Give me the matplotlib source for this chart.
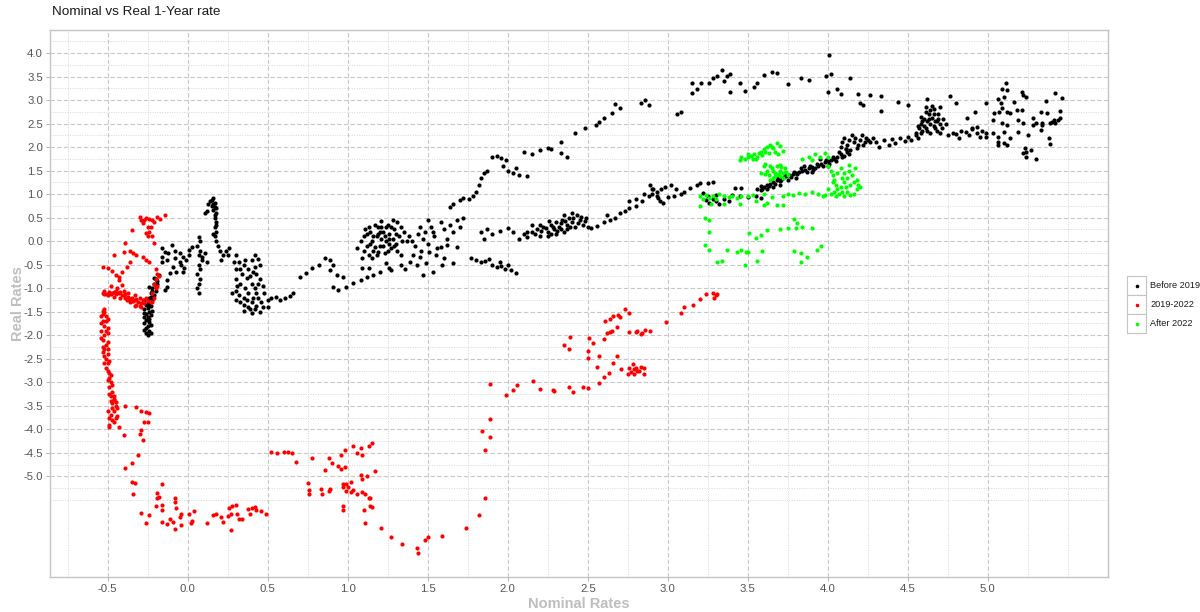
import numpy as np
import matplotlib
matplotlib.use('Agg')
import matplotlib.pyplot as plt
from matplotlib.lines import Line2D
from matplotlib.patches import Rectangle

plt.rcParams['font.family'] = ['Liberation Sans', 'DejaVu Sans']

# (nominal, real) 1-year rates, read per period
before_2019 = [
    # short end, 2009-2013 style lows
    (-0.25, -2.0), (-0.26, -1.95), (-0.24, -1.9), (-0.26, -1.85), (-0.25, -1.8),
    (-0.27, -1.75), (-0.24, -1.72), (-0.26, -1.68), (-0.25, -1.62), (-0.23, -1.58),
    (-0.26, -1.55), (-0.24, -1.5), (-0.27, -1.45), (-0.25, -1.42), (-0.23, -1.38),
    (-0.26, -1.35), (-0.25, -1.3), (-0.22, -1.25), (-0.24, -1.2), (-0.21, -1.15),
    (-0.23, -1.1), (-0.2, -1.05), (-0.22, -1.0), (-0.2, -0.95), (-0.21, -0.9),
    (-0.19, -0.85), (-0.2, -0.8), (-0.18, -0.72),
    (-0.23, -1.95), (-0.27, -1.88), (-0.23, -1.78), (-0.27, -1.62), (-0.24, -1.65),
    (-0.22, -1.48), (-0.27, -1.52), (-0.24, -1.35), (-0.27, -1.25), (-0.23, -1.18),
    (-0.22, -1.05), (-0.24, -0.97), (-0.19, -0.9), (-0.21, -0.78),
    (-0.16, -0.15), (-0.14, -0.22), (-0.16, -0.34), (-0.13, -0.4), (-0.16, -0.45),
    (-0.12, -0.26), (-0.1, -0.09), (-0.08, -0.2), (-0.08, -0.36), (-0.09, -0.55),
    (-0.07, -0.66), (-0.11, -0.68), (-0.13, -0.83), (-0.13, -0.98), (-0.14, -1.04),
    (-0.05, -0.26), (-0.03, -0.34), (-0.05, -0.45), (-0.04, -0.51), (-0.01, -0.4),
    (0.01, -0.3), (-0.02, -0.57), (-0.03, -0.66), (0.01, -0.19), (0.03, -0.13),
    (0.07, 0.08), (0.08, 0.0), (0.06, -0.1), (0.08, -0.2), (0.07, -0.3),
    (0.09, -0.4), (0.07, -0.5), (0.08, -0.6), (0.06, -0.7), (0.08, -0.8),
    (0.07, -0.9), (0.06, -1.0), (0.07, -1.1), (0.09, -0.34), (0.11, -0.26),
    (0.12, -0.45),
    (0.16, 0.91), (0.14, 0.86), (0.17, 0.82), (0.13, 0.78), (0.15, 0.74),
    (0.18, 0.7), (0.16, 0.66), (0.18, 0.6), (0.17, 0.5), (0.18, 0.4),
    (0.17, 0.3), (0.18, 0.2), (0.17, 0.1), (0.18, 0.0), (0.12, 0.65), (0.11, 0.6),
    (0.15, 0.88), (0.16, 0.8), (0.17, 0.72), (0.17, 0.55), (0.18, 0.35),
    (0.16, 0.15),
    (0.19, -0.1), (0.2, -0.2), (0.22, -0.3), (0.21, -0.4), (0.24, -0.2),
    (0.25, -0.3), (0.26, -0.15),
    (0.3, -0.3), (0.32, -0.45), (0.35, -0.5), (0.3, -0.6), (0.34, -0.7),
    (0.38, -0.6), (0.4, -0.4), (0.42, -0.55), (0.45, -0.5), (0.43, -0.7),
    (0.3, -0.8), (0.33, -0.9), (0.36, -1.0), (0.3, -1.05), (0.28, -1.1),
    (0.32, -1.15), (0.35, -1.2), (0.38, -1.1), (0.4, -0.9), (0.42, -1.0),
    (0.44, -1.2), (0.4, -1.3), (0.35, -1.35), (0.3, -1.25), (0.42, -1.45),
    (0.45, -1.5), (0.4, -1.52), (0.38, -1.4), (0.46, -1.3), (0.5, -1.25),
    (0.52, -1.2), (0.48, -1.1), (0.55, -1.18), (0.31, -0.95), (0.45, -0.8),
    (0.47, -0.95), (0.37, -0.78), (0.43, -1.38),
    (0.29, -0.45), (0.33, -0.6), (0.36, -0.4), (0.39, -0.75), (0.41, -0.65),
    (0.44, -0.9), (0.33, -1.3), (0.37, -1.25), (0.41, -1.2), (0.43, -1.1),
    (0.47, -1.4), (0.5, -1.4), (0.39, -1.45), (0.35, -1.48), (0.42, -0.3),
    (0.44, -0.38),
    # 2013-2016 climb
    (0.58, -1.25), (0.61, -1.2), (0.64, -1.17), (0.66, -1.1), (0.7, -0.77),
    (0.74, -0.68), (0.78, -0.57), (0.82, -0.5), (0.86, -0.36), (0.89, -0.4),
    (0.91, -0.51), (0.89, -0.62), (0.93, -0.72), (0.97, -0.77), (0.91, -0.98),
    (0.94, -1.04), (0.99, -0.98), (1.03, -0.89), (1.08, -0.83), (1.12, -0.77),
    (1.16, -0.72), (1.2, -0.66), (1.26, -0.57), (1.33, -0.51), (1.39, -0.45),
    (1.45, -0.34), (1.51, -0.23), (1.58, -0.13), (1.62, -0.09), (1.68, -0.13),
    (1.09, -0.57), (1.13, -0.57), (1.24, -0.47), (1.27, -0.62), (1.36, -0.6),
    (1.43, -0.51), (1.49, -0.47), (1.47, -0.72), (1.53, -0.66), (1.59, -0.51),
    (1.66, -0.47),
    (1.08, 0.0), (1.1, 0.1), (1.12, -0.1), (1.14, 0.2), (1.15, 0.0),
    (1.16, -0.2), (1.18, 0.1), (1.19, 0.3), (1.2, -0.1), (1.21, 0.05),
    (1.22, 0.2), (1.23, -0.25), (1.24, 0.0), (1.25, 0.35), (1.26, 0.15),
    (1.27, -0.15), (1.28, 0.05), (1.29, 0.25), (1.3, -0.05), (1.31, 0.4),
    (1.32, 0.1), (1.33, -0.3), (1.13, -0.3), (1.17, 0.35), (1.11, 0.25),
    (1.35, 0.2), (1.37, 0.0), (1.06, -0.15), (1.09, -0.35), (1.28, 0.45),
    (1.14, -0.05), (1.19, 0.15), (1.23, 0.1), (1.26, -0.05), (1.21, 0.3),
    (1.1, -0.2), (1.13, 0.3), (1.16, 0.1), (1.18, -0.3), (1.2, 0.2),
    (1.22, -0.1), (1.24, 0.3), (1.25, -0.2), (1.27, 0.3), (1.29, -0.1),
    (1.3, 0.15), (1.31, -0.2), (1.33, 0.3), (1.34, 0.0), (1.12, 0.15),
    (1.17, -0.12), (1.21, 0.42), (1.26, 0.05), (1.15, -0.35), (1.19, -0.22),
    (1.38, 0.1), (1.4, 0.0), (1.42, -0.1), (1.44, 0.15), (1.46, -0.2),
    (1.48, 0.2), (1.5, -0.05), (1.52, 0.3), (1.54, 0.1), (1.56, -0.15),
    (1.58, 0.4), (1.6, 0.25), (1.62, 0.05), (1.64, 0.35), (1.66, 0.2),
    (1.68, 0.45), (1.45, 0.3), (1.5, 0.45), (1.55, -0.3), (1.6, -0.35),
    (1.41, -0.3), (1.47, 0.05), (1.53, 0.2), (1.7, 0.3), (1.72, 0.5),
    (1.77, -0.35), (1.8, -0.4), (1.83, -0.45), (1.86, -0.42), (1.9, -0.5),
    (1.93, -0.55), (1.96, -0.52), (1.98, -0.6), (2.02, -0.62), (2.05, -0.68),
    (1.88, -0.38), (1.95, -0.45), (2.0, -0.5),
    (1.83, 0.2), (1.87, 0.25), (1.9, 0.15), (1.95, 0.22), (2.0, 0.27),
    (2.03, 0.2), (1.85, 0.05),
    (2.07, 0.05), (2.1, 0.15), (2.12, 0.08), (2.15, 0.2), (2.18, 0.25),
    (2.2, 0.12), (2.22, 0.3), (2.25, 0.2), (2.27, 0.35), (2.29, 0.25),
    (2.3, 0.4), (2.32, 0.3), (2.34, 0.45), (2.35, 0.2), (2.37, 0.35),
    (2.38, 0.5), (2.4, 0.4), (2.42, 0.3), (2.43, 0.55), (2.45, 0.45),
    (2.47, 0.35), (2.49, 0.5), (2.5, 0.3), (2.25, 0.1), (2.3, 0.15),
    (2.35, 0.55), (2.2, 0.35), (2.4, 0.6), (2.15, 0.35), (2.33, 0.25),
    (2.12, 0.2), (2.17, 0.15), (2.21, 0.22), (2.24, 0.28), (2.26, 0.42),
    (2.28, 0.3), (2.31, 0.22), (2.33, 0.38), (2.36, 0.42), (2.39, 0.3),
    (2.41, 0.5), (2.44, 0.38), (2.46, 0.52), (2.48, 0.42), (2.27, 0.15),
    (2.37, 0.25),
    (2.52, 0.28), (2.56, 0.32), (2.6, 0.4), (2.64, 0.45), (2.67, 0.5),
    (2.7, 0.6), (2.73, 0.65), (2.76, 0.7), (2.8, 0.75), (2.84, 0.85),
    (2.88, 0.95), (2.9, 1.0), (2.93, 1.05), (2.96, 1.1), (2.8, 0.9),
    (2.85, 1.0), (2.9, 1.12), (2.94, 0.92), (2.98, 1.15), (3.02, 1.2),
    (3.05, 1.1), (3.1, 1.05), (2.76, 0.85), (2.62, 0.55),
    # upper branch
    (1.64, 0.72), (1.66, 0.8), (1.7, 0.88), (1.72, 0.92), (1.76, 0.9),
    (1.78, 0.96), (1.8, 1.05), (1.82, 1.2), (1.83, 1.35), (1.85, 1.45),
    (1.87, 1.5), (1.9, 1.8), (1.93, 1.82), (1.96, 1.76), (1.99, 1.72),
    (1.97, 1.6), (2.0, 1.5), (2.03, 1.45), (2.07, 1.4), (2.12, 1.38),
    (2.05, 1.55), (2.1, 1.9), (2.15, 1.85), (2.2, 1.93), (2.27, 1.95),
    (2.33, 1.87), (2.37, 1.8), (2.25, 1.98), (2.33, 2.11), (2.42, 2.3),
    (2.48, 2.4), (2.55, 2.47), (2.57, 2.53), (2.6, 2.62), (2.65, 2.72),
    (2.7, 2.83), (2.67, 2.91), (2.83, 2.94), (2.86, 3.0), (2.88, 2.9),
    (3.08, 2.74), (3.06, 2.7), (3.15, 3.15), (3.15, 3.36), (3.18, 3.24),
    (3.21, 3.36), (3.26, 3.36), (3.28, 3.47), (3.31, 3.51), (3.34, 3.64),
    (3.35, 3.4), (3.37, 3.51), (3.39, 3.55), (3.39, 3.17), (3.45, 3.36),
    (3.48, 3.19), (3.54, 3.28), (3.56, 3.36), (3.6, 3.53), (3.65, 3.6),
    (3.68, 3.58), (3.75, 3.34), (3.83, 3.47), (3.88, 3.43), (3.99, 3.51),
    (4.02, 3.55), (4.01, 3.96), (4.0, 3.17), (4.06, 3.23), (4.08, 3.13),
    (4.14, 3.47), (4.19, 3.13), (4.2, 2.94), (4.22, 2.9), (4.26, 3.11),
    (4.33, 3.09), (4.33, 2.77), (4.44, 2.96), (4.5, 2.89), (4.62, 3.02),
    (4.76, 3.09), (4.8, 2.94), (4.99, 2.94), (4.92, 2.74),
    # 2017-2018 run-up
    (2.89, 1.19), (2.91, 1.1), (2.93, 0.95), (2.95, 0.85), (2.97, 0.81),
    (3.0, 0.94), (3.04, 0.97), (3.08, 1.0), (3.14, 1.13), (3.18, 1.2),
    (3.2, 1.23), (3.22, 1.02), (3.25, 0.95), (3.28, 0.9), (3.3, 0.85),
    (3.32, 0.8), (3.35, 0.9), (3.38, 0.85), (3.26, 0.82), (3.3, 0.98),
    (3.24, 0.88), (3.28, 1.25), (3.25, 1.23), (3.42, 1.13), (3.46, 1.13),
    (3.4, 0.98), (3.45, 0.95), (3.5, 0.93), (3.55, 0.95), (3.58, 0.92),
    (3.56, 1.1), (3.58, 1.18), (3.6, 1.15), (3.62, 1.2), (3.64, 1.22),
    (3.66, 1.25), (3.68, 1.3), (3.7, 1.28), (3.72, 1.35), (3.74, 1.38),
    (3.76, 1.4), (3.78, 1.42), (3.8, 1.45), (3.82, 1.48), (3.84, 1.5),
    (3.86, 1.52), (3.88, 1.55), (3.9, 1.58), (3.92, 1.55), (3.94, 1.6),
    (3.96, 1.65), (3.98, 1.68), (4.0, 1.7), (4.02, 1.72), (4.04, 1.75),
    (4.06, 1.8), (4.08, 1.85), (4.1, 1.82), (4.12, 1.9), (4.14, 1.94),
    (3.7, 1.2), (3.8, 1.35), (3.9, 1.48), (4.0, 1.6), (3.85, 1.6),
    (3.95, 1.75), (3.58, 1.08), (3.62, 1.1), (3.66, 1.15), (3.75, 1.3),
    (3.59, 1.12), (3.63, 1.18), (3.67, 1.22), (3.69, 1.35), (3.71, 1.3),
    (3.73, 1.4), (3.77, 1.37), (3.79, 1.47), (3.81, 1.42), (3.83, 1.55),
    (3.87, 1.48), (3.89, 1.6), (3.91, 1.52), (3.93, 1.65), (3.97, 1.6),
    (3.99, 1.72), (4.01, 1.65), (4.03, 1.8), (4.05, 1.7), (4.07, 1.9),
    (4.09, 1.78), (4.11, 1.95), (4.13, 1.85),
    (4.08, 2.0), (4.12, 2.05), (4.16, 2.1), (4.2, 2.15), (4.24, 2.2),
    (4.1, 2.2), (4.15, 2.25), (4.18, 1.98), (4.22, 2.05), (4.26, 2.1),
    (4.09, 2.1), (4.11, 1.95), (4.13, 2.15), (4.17, 2.2), (4.19, 2.05),
    (4.21, 2.25), (4.23, 2.1), (4.25, 2.15),
    (4.3, 2.1), (4.35, 2.15), (4.4, 2.18), (4.45, 2.2), (4.5, 2.22),
    (4.55, 2.25), (4.32, 2.0), (4.38, 2.05), (4.42, 2.08), (4.48, 2.12),
    (4.52, 2.15), (4.28, 2.2),
    (4.55, 2.3), (4.57, 2.4), (4.58, 2.5), (4.6, 2.45), (4.6, 2.6),
    (4.62, 2.35), (4.62, 2.55), (4.63, 2.7), (4.64, 2.5), (4.65, 2.62),
    (4.66, 2.8), (4.67, 2.4), (4.68, 2.55), (4.69, 2.7), (4.7, 2.3),
    (4.7, 2.5), (4.72, 2.6), (4.58, 2.65), (4.61, 2.75), (4.65, 2.88),
    (4.56, 2.2), (4.7, 2.85), (4.74, 2.5), (4.59, 2.35), (4.66, 2.45),
    (4.56, 2.45), (4.58, 2.3), (4.59, 2.55), (4.61, 2.4), (4.63, 2.6),
    (4.64, 2.3), (4.66, 2.7), (4.67, 2.55), (4.68, 2.35), (4.69, 2.6),
    (4.71, 2.4), (4.61, 2.85), (4.64, 2.78),
    (4.75, 2.25), (4.78, 2.3), (4.8, 2.28), (4.83, 2.35), (4.86, 2.32),
    (4.9, 2.38), (4.93, 2.3), (4.96, 2.35), (4.99, 2.3), (4.82, 2.2),
    (4.88, 2.25), (4.95, 2.22), (4.87, 2.62), (4.93, 2.43), (4.9, 2.41),
    (5.03, 2.3), (4.99, 2.21), (5.06, 2.11), (5.06, 2.04), (5.12, 2.04),
    # late 2018 highs
    (5.11, 3.36), (5.09, 3.23), (5.12, 3.21), (5.06, 3.02), (5.1, 3.06),
    (5.08, 2.94), (5.09, 2.83), (5.12, 2.74), (5.07, 2.74), (5.14, 2.72),
    (5.04, 2.72), (5.03, 2.57), (5.09, 2.51), (5.12, 2.47), (5.1, 2.32),
    (5.06, 2.21), (5.14, 2.19), (5.1, 2.09), (5.16, 2.96), (5.18, 2.79),
    (5.21, 3.17), (5.22, 3.11), (5.24, 3.06), (5.21, 2.79), (5.19, 2.57),
    (5.19, 2.32), (5.22, 2.51), (5.24, 1.89), (5.23, 1.98), (5.22, 1.87),
    (5.27, 1.94), (5.24, 1.8), (5.3, 1.74), (5.25, 2.26), (5.28, 2.62),
    (5.28, 2.47), (5.3, 2.51), (5.33, 2.36), (5.34, 2.47), (5.34, 2.51),
    (5.33, 2.74), (5.37, 2.72), (5.36, 2.98), (5.38, 2.19), (5.39, 2.06),
    (5.39, 2.51), (5.4, 2.53), (5.41, 2.57), (5.42, 3.15), (5.45, 2.77),
    (5.45, 2.62), (5.44, 2.57), (5.46, 3.04), (5.42, 2.51),
]

period_2019_2022 = [
    (-0.3, 0.51), (-0.27, 0.45), (-0.24, 0.48), (-0.19, 0.51), (-0.14, 0.55),
    (-0.28, 0.38), (-0.25, 0.3), (-0.24, 0.2), (-0.22, 0.1), (-0.21, -0.04),
    (-0.26, 0.17), (-0.35, 0.23), (-0.39, -0.04), (-0.21, 0.4), (-0.17, 0.47),
    (-0.29, 0.45), (-0.26, 0.5), (-0.22, 0.45), (-0.23, 0.3), (-0.25, 0.1),
    (-0.46, -0.3), (-0.4, -0.22), (-0.34, -0.26), (-0.32, -0.3), (-0.28, -0.34),
    (-0.26, -0.4), (-0.24, -0.44), (-0.36, -0.2),
    (-0.53, -0.55), (-0.5, -0.57), (-0.47, -0.64), (-0.45, -0.72), (-0.43, -0.83),
    (-0.41, -0.94), (-0.36, -0.44), (-0.38, -0.55), (-0.41, -0.66), (-0.43, -0.77),
    (-0.53, -1.1), (-0.51, -1.12), (-0.49, -1.08), (-0.47, -1.1), (-0.45, -1.12),
    (-0.43, -1.1), (-0.41, -1.15), (-0.39, -1.12), (-0.37, -1.18), (-0.35, -1.2),
    (-0.33, -1.25), (-0.31, -1.3), (-0.3, -1.38), (-0.32, -1.35), (-0.34, -1.28),
    (-0.36, -1.22), (-0.4, -1.05), (-0.44, -1.0), (-0.48, -0.95), (-0.42, -1.2),
    (-0.38, -1.25), (-0.46, -1.18), (-0.5, -1.15), (-0.29, -1.4), (-0.27, -1.32),
    (-0.28, -1.25), (-0.26, -1.2), (-0.25, -1.28), (-0.23, -1.3), (-0.45, -1.05),
    (-0.52, -1.05), (-0.39, -1.2), (-0.33, -1.15),
    (-0.52, -1.12), (-0.48, -1.13), (-0.46, -1.08), (-0.42, -1.08), (-0.4, -1.15),
    (-0.37, -1.1), (-0.35, -1.28), (-0.32, -1.22), (-0.3, -1.2), (-0.29, -1.32),
    (-0.33, -1.38), (-0.36, -1.3),
    (-0.2, -0.6), (-0.19, -0.7), (-0.2, -0.8), (-0.21, -0.9), (-0.2, -1.0),
    (-0.22, -1.1), (-0.21, -1.2), (-0.22, -1.3), (-0.18, -0.75), (-0.19, -0.95),
    (-0.52, -1.45), (-0.53, -1.55), (-0.51, -1.6), (-0.53, -1.7), (-0.52, -1.8),
    (-0.54, -1.9), (-0.52, -2.0), (-0.53, -2.1), (-0.51, -2.2), (-0.52, -2.3),
    (-0.5, -2.4), (-0.51, -2.5), (-0.5, -2.6), (-0.51, -2.7), (-0.49, -2.8),
    (-0.5, -1.65), (-0.5, -1.95), (-0.5, -2.15), (-0.54, -2.05), (-0.53, -2.35),
    (-0.49, -2.55), (-0.52, -1.5), (-0.54, -1.75), (-0.5, -1.85), (-0.52, -2.45),
    (-0.53, -1.48), (-0.51, -1.7), (-0.54, -1.6), (-0.51, -1.9), (-0.53, -2.25),
    (-0.5, -2.3), (-0.52, -2.6), (-0.5, -2.75), (-0.48, -2.85), (-0.5, -2.95),
    (-0.47, -3.05), (-0.49, -3.25), (-0.46, -3.3), (-0.45, -3.42), (-0.47, -3.55),
    (-0.49, -3.75), (-0.46, -3.85),
    (-0.49, -2.9), (-0.48, -3.0), (-0.49, -3.1), (-0.47, -3.2), (-0.48, -3.3),
    (-0.46, -3.35), (-0.47, -3.45), (-0.45, -3.5), (-0.46, -3.6), (-0.48, -3.7),
    (-0.47, -3.8), (-0.49, -3.9), (-0.45, -3.75), (-0.44, -3.55), (-0.5, -3.6),
    (-0.48, -3.4), (-0.49, -3.96), (-0.46, -3.38), (-0.44, -3.72),
    (-0.39, -3.51), (-0.32, -3.53), (-0.29, -3.6), (-0.26, -3.64), (-0.24, -3.66),
    (-0.25, -3.85), (-0.27, -3.85), (-0.29, -4.02), (-0.3, -4.09), (-0.28, -4.23),
    (-0.4, -4.13), (-0.43, -3.96), (-0.31, -4.55), (-0.35, -4.72), (-0.39, -4.83),
    (-0.35, -5.13), (-0.33, -5.15), (-0.34, -5.38), (-0.29, -5.77), (-0.26, -6.0),
    # 2020 trough
    (-0.16, -5.17), (-0.19, -5.36), (-0.18, -5.43), (-0.19, -5.47), (-0.16, -5.6),
    (-0.2, -5.64), (-0.24, -5.83), (-0.16, -5.72), (-0.08, -5.45), (-0.08, -5.55),
    (-0.07, -5.68), (-0.04, -5.79), (-0.05, -5.87), (-0.11, -5.91), (-0.16, -5.98),
    (-0.13, -6.02), (-0.09, -5.98), (-0.08, -6.11), (-0.04, -6.04), (0.01, -5.79),
    (0.04, -5.74), (0.03, -5.94), (0.02, -6.0), (0.12, -6.0), (0.16, -5.83),
    (0.18, -5.79), (0.21, -5.87), (0.22, -5.96), (0.25, -5.85), (0.26, -5.68),
    (0.28, -5.64), (0.3, -5.6), (0.27, -5.81), (0.31, -5.79), (0.27, -6.15),
    (0.32, -5.9), (0.34, -5.9), (0.39, -5.79), (0.4, -5.68), (0.42, -5.66),
    (0.46, -5.74), (0.49, -5.79), (0.38, -5.7), (0.43, -5.72),
    (0.52, -4.49), (0.56, -4.51), (0.6, -4.49), (0.63, -4.49), (0.65, -4.51),
    (0.68, -4.7),
    (0.75, -5.15), (0.76, -5.28), (0.76, -5.38), (0.78, -4.62), (0.83, -5.26),
    (0.84, -5.38), (0.86, -4.87), (0.88, -4.62), (0.88, -5.32), (0.89, -5.26),
    (0.9, -4.72), (0.94, -4.77), (0.96, -4.55), (0.96, -4.85), (0.98, -4.81),
    (0.98, -4.45), (0.97, -5.23), (0.97, -5.17), (0.97, -5.62), (0.97, -5.72),
    (0.99, -5.17), (0.99, -5.32), (1.0, -5.23), (1.02, -5.34), (1.02, -5.13),
    (1.03, -4.36), (1.03, -5.28), (1.06, -5.38), (1.06, -4.51), (1.08, -4.4),
    (1.08, -4.98), (1.09, -5.06), (1.09, -4.55), (1.09, -5.34), (1.11, -5.38),
    (1.1, -5.72), (1.11, -6.0), (1.12, -5.0), (1.13, -4.36), (1.13, -5.45),
    (1.14, -5.47), (1.14, -5.62), (1.15, -5.66), (1.15, -4.3), (1.17, -4.89),
    # 2021-2022 rebound
    (1.21, -6.09), (1.27, -6.28), (1.34, -6.43), (1.43, -6.53), (1.44, -6.64),
    (1.48, -6.36), (1.5, -6.3), (1.59, -6.26), (1.74, -6.09), (1.82, -5.83),
    (1.86, -5.45), (1.86, -4.43), (1.84, -4.04), (1.89, -4.17), (1.89, -3.79),
    (1.89, -3.04), (1.99, -3.26), (2.03, -3.17), (2.06, -3.06), (2.16, -2.98),
    (2.2, -3.15), (2.28, -3.17), (2.29, -3.19), (2.38, -3.11), (2.41, -3.21),
    (2.47, -3.11), (2.5, -3.13), (2.57, -3.02), (2.6, -2.89), (2.63, -2.81),
    (2.66, -2.6), (2.68, -2.45), (2.71, -2.72), (2.75, -2.83), (2.76, -2.7),
    (2.78, -2.62), (2.79, -2.72), (2.79, -2.83), (2.8, -2.7), (2.81, -2.77),
    (2.83, -2.68), (2.85, -2.7), (2.85, -2.83), (2.77, -2.79), (2.82, -2.75),
    (2.56, -2.68), (2.57, -2.45), (2.5, -2.34), (2.5, -2.49), (2.53, -2.17),
    (2.51, -2.06), (2.35, -2.21), (2.38, -2.3), (2.39, -2.04), (2.6, -2.09),
    (2.62, -1.96), (2.64, -1.94), (2.65, -1.91), (2.68, -1.83), (2.61, -1.7),
    (2.64, -1.66), (2.66, -1.6), (2.69, -1.57), (2.7, -1.62), (2.73, -1.45),
    (2.76, -1.53), (2.76, -1.94), (2.8, -1.94), (2.81, -1.91), (2.83, -1.98),
    (2.84, -1.96), (2.86, -1.89), (2.89, -1.91), (2.99, -1.72), (3.08, -1.53),
    (3.1, -1.4), (3.16, -1.36), (3.2, -1.23), (3.24, -1.13), (3.28, -1.11),
    (3.29, -1.21), (3.3, -1.15), (3.31, -1.13),
]

after_2022 = [
    (3.46, 1.8), (3.48, 1.75), (3.5, 1.78), (3.52, 1.82), (3.54, 1.85),
    (3.56, 1.8), (3.58, 1.9), (3.6, 1.95), (3.62, 2.0), (3.64, 2.05),
    (3.66, 1.98), (3.68, 2.08), (3.7, 2.02), (3.72, 1.92), (3.63, 1.88),
    (3.55, 1.75), (3.69, 1.85), (3.45, 1.72), (3.59, 1.84),
    (3.5, 1.85), (3.53, 1.75), (3.57, 1.88), (3.61, 1.9), (3.65, 2.0),
    (3.67, 1.9),
    (3.84, 1.75), (3.88, 1.8), (3.92, 1.85), (3.95, 1.8), (3.98, 1.88),
    (4.0, 1.78), (3.9, 1.72),
    (3.6, 1.6), (3.62, 1.5), (3.63, 1.4), (3.65, 1.55), (3.66, 1.35),
    (3.67, 1.45), (3.68, 1.6), (3.7, 1.5), (3.7, 1.38), (3.72, 1.45),
    (3.73, 1.55), (3.64, 1.3), (3.75, 1.4), (3.61, 1.65), (3.69, 1.42),
    (3.66, 1.5), (3.71, 1.58), (3.58, 1.45), (3.61, 1.42), (3.64, 1.6),
    (3.67, 1.38), (3.7, 1.62), (3.72, 1.35), (3.74, 1.48),
    (4.0, 1.6), (4.02, 1.5), (4.03, 1.4), (4.04, 1.3), (4.05, 1.2),
    (4.06, 1.1), (4.07, 1.0), (4.08, 1.55), (4.1, 1.45), (4.1, 1.25),
    (4.12, 1.35), (4.12, 1.05), (4.14, 1.2), (4.15, 1.4), (4.16, 1.0),
    (4.18, 1.3), (4.18, 1.1), (4.05, 0.95), (4.1, 0.95), (4.2, 1.15),
    (4.17, 1.55), (4.02, 1.0), (3.98, 0.98), (4.13, 1.62), (4.08, 1.15),
    (4.14, 0.98), (4.0, 1.1), (4.03, 1.25), (4.06, 1.45), (4.09, 1.35),
    (4.11, 1.15), (4.13, 1.5), (4.16, 1.25), (4.19, 1.2), (4.04, 1.05),
    (4.09, 1.05),
    (3.2, 0.95), (3.22, 0.9), (3.24, 0.98), (3.26, 0.92), (3.28, 0.95),
    (3.3, 0.9), (3.32, 1.0), (3.35, 0.95), (3.38, 0.93), (3.4, 0.95),
    (3.43, 0.92), (3.46, 0.97), (3.5, 0.95), (3.53, 0.98), (3.2, 0.75),
    (3.27, 0.8), (3.35, 0.78), (3.45, 0.8), (3.55, 0.85),
    (3.72, 0.95), (3.75, 1.0), (3.78, 0.98), (3.82, 1.02), (3.86, 1.0),
    (3.9, 1.05), (3.94, 1.0), (3.97, 0.96), (3.65, 0.93), (3.6, 1.0),
    (3.68, 0.77), (3.72, 0.77), (3.6, 0.77), (3.62, 0.82),
    (3.23, 0.49), (3.26, 0.45), (3.26, 0.19), (3.23, -0.09), (3.26, -0.19),
    (3.31, -0.45), (3.34, -0.43), (3.37, -0.19), (3.43, -0.22), (3.46, -0.19),
    (3.49, -0.22), (3.5, -0.22), (3.48, -0.51), (3.56, -0.43), (3.59, -0.21),
    (3.51, 0.17), (3.55, 0.06), (3.58, 0.13), (3.62, 0.23), (3.7, 0.26),
    (3.75, 0.28), (3.79, 0.47), (3.8, 0.28), (3.84, 0.3), (3.9, 0.28),
    (3.79, -0.21), (3.83, -0.26), (3.87, -0.34), (3.83, -0.45), (3.93, -0.19),
    (3.96, -0.1), (3.81, 0.38),
]

series = [
    ('Before 2019', before_2019, '#000000'),
    ('2019-2022', period_2019_2022, '#ff0000'),
    ('After 2022', after_2022, '#00ff00'),
]

fig = plt.figure(figsize=(12, 6.12), dpi=100)
ax = fig.add_axes([50 / 1200, 35 / 612, 1058 / 1200, 547 / 612])

for label, pts, colour in series:
    arr = np.array(pts)
    ax.scatter(arr[:, 0], arr[:, 1], s=9, c=colour, linewidths=0,
               zorder=3)

ax.set_xlim(-0.86, 5.75)
ax.set_ylim(-7.14, 4.49)

xt = np.arange(-0.5, 5.01, 0.5)
yt = np.arange(-5.0, 4.01, 0.5)
ax.set_xticks(xt)
ax.set_xticklabels([f'{v:.1f}' for v in xt])
ax.set_yticks(yt)
ax.set_yticklabels([f'{v:.1f}' for v in yt])
ax.set_xticks(np.arange(-0.75, 5.6, 0.5).tolist() + [5.5], minor=True)
ax.set_yticks(np.arange(-5.25, 4.3, 0.5).tolist() + [-5.5], minor=True)

ax.grid(which='major', color='#c8c8c8', ls=(0, (4, 2)), lw=0.8, zorder=0)
ax.grid(which='minor', color='#d6d6d6', ls=(0, (1, 1.5)), lw=0.7, zorder=0)
ax.set_axisbelow(True)

ax.tick_params(which='major', length=3, width=0.7, color='#b3b3b3',
               labelcolor='#555555', labelsize=8.2, pad=2)
ax.tick_params(which='minor', length=0)
for sp in ax.spines.values():
    sp.set_color('#c4c4c4')
    sp.set_linewidth(1)

ax.set_xlabel('Nominal Rates', fontsize=10.5, fontweight='bold',
              color='#bebebe', labelpad=2)
ax.set_ylabel('Real Rates', fontsize=10.5, fontweight='bold',
              color='#bebebe')
ax.yaxis.set_label_coords(-25 / 1058, 0.5)
fig.text(52 / 1200, 1 - 12 / 612, 'Nominal vs Real 1-Year rate',
         fontsize=9.7, color='#1a1a1a', va='center', ha='left')

# legend keys drawn as bordered boxes
key_w, key_h = 19 / 1200, 19 / 612
for i, (label, _, colour) in enumerate(series):
    x0 = 1127 / 1200
    y0 = 1 - (276 + 19 * (i + 1)) / 612
    fig.patches.append(Rectangle((x0, y0), key_w, key_h,
                                 transform=fig.transFigure,
                                 facecolor='white', edgecolor='#c4c4c4',
                                 lw=0.8))
    fig.lines.append(Line2D([x0 + key_w / 2], [y0 + key_h / 2],
                            transform=fig.transFigure, marker='o',
                            ms=2.6, mec='none', mfc=colour, ls='none'))
    fig.text(1150 / 1200, y0 + key_h / 2, label, fontsize=6.6,
             color='#1a1a1a', va='center', ha='left')

fig.savefig('out.png', dpi=100)
